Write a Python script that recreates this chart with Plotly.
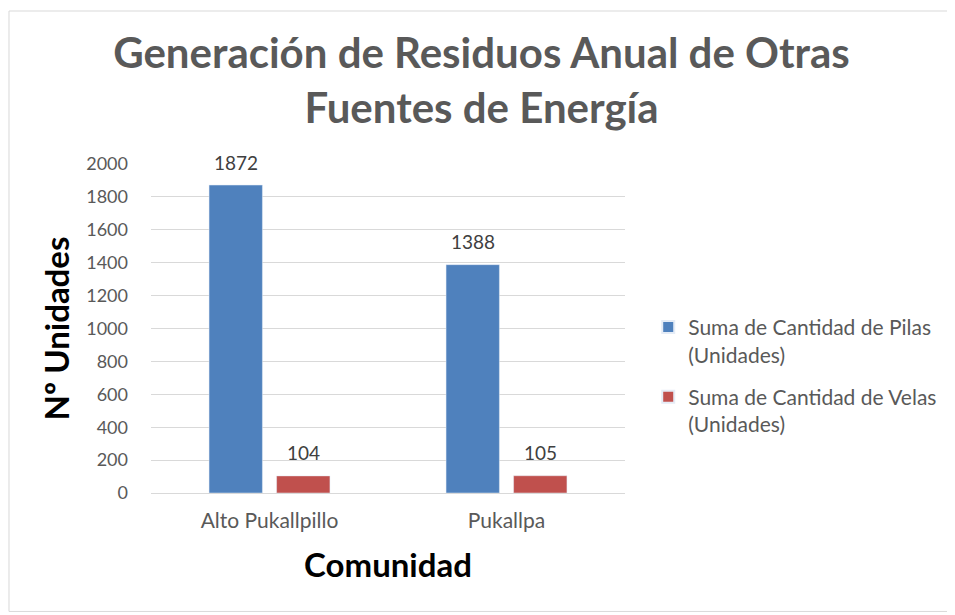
import plotly.graph_objects as go

categories = ["Alto Pukallpillo", "Pukallpa"]
pilas = [1872, 1388]
velas = [104, 105]
series_names = ["Suma de Cantidad de Pilas<br>(Unidades)", "Suma de Cantidad de Velas<br>(Unidades)"]
tick_vals = list(range(0, 2001, 200))

BARGAP = 0.43
PLOT_W = 474
slot_px = PLOT_W / len(categories) * (1 - BARGAP) / 2

fig = go.Figure()
fig.add_trace(go.Bar(x=categories, y=pilas, name=series_names[0], marker_color="#4F81BD",
                     legendgroup="pilas"))
fig.add_trace(go.Bar(x=categories, y=velas, name=series_names[1], marker_color="#C0504D",
                     legendgroup="velas"))

annotations = []
for vals, sgn in ((pilas, -1), (velas, 1)):
    for c, v in zip(categories, vals):
        annotations.append(dict(x=c, y=v, xref="x", yref="y", text=str(v), showarrow=False,
                                xshift=sgn * slot_px / 2, yshift=23, yanchor="middle",
                                font=dict(size=19, color="#404040", family="Lato")))

fig.update_layout(
    width=947, height=607,
    paper_bgcolor="white", plot_bgcolor="white",
    margin=dict(l=143, r=330, t=156, b=122),
    barmode="group", bargap=BARGAP, bargroupgap=0.21,
    font=dict(family="Lato", color="#595959"),
    title=dict(text="Generación de Residuos Anual de Otras<br>Fuentes de Energía",
               x=0.5, xanchor="center", y=0.901, yanchor="middle",
               font=dict(size=42, color="#595959", family="Lato", weight="bold")),
    xaxis=dict(showgrid=False, showline=True, linecolor="#D9D9D9", linewidth=1,
               tickfont=dict(size=21, color="#595959"), ticks="", ticklabelstandoff=9,
               title=dict(text="Comunidad", font=dict(size=33, color="black", weight="bold"), standoff=22)),
    yaxis=dict(range=[0, 2000], tickvals=tick_vals, showgrid=True, gridcolor="#D9D9D9",
               zeroline=False, tickfont=dict(size=18, color="#595959"), ticks="",
               ticklabelstandoff=22,
               title=dict(text="Nº Unidades", font=dict(size=33, color="black", weight="bold"), standoff=6)),
    legend=dict(x=1.049, xanchor="left", y=0.356, yanchor="middle", valign="top",
                font=dict(size=21, color="#595959"), itemsizing="constant",
                tracegroupgap=12, traceorder="grouped"),
    annotations=annotations,
    shapes=[dict(type="rect", xref="paper", yref="paper", x0=-0.2996, x1=1.69, y0=-0.36, y1=1.465,
                 line=dict(color="#D9D9D9", width=1))],
)

fig.write_html("out.html")
